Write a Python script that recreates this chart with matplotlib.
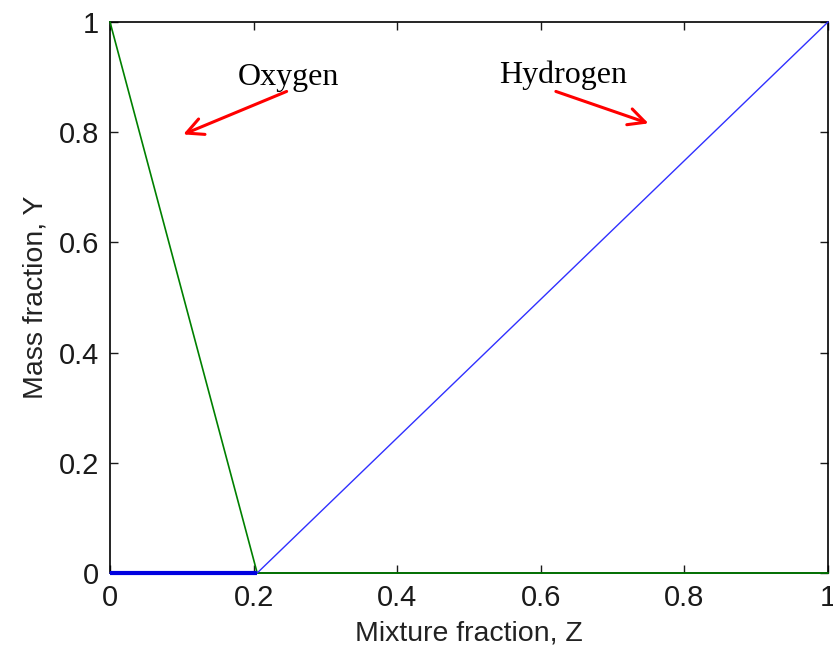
import matplotlib
matplotlib.use("Agg")
import matplotlib.pyplot as plt

# mixture fraction and species mass fractions
z = [0.0, 0.205, 1.0]
y_oxygen = [1.0, 0.0, 0.0]
y_hydrogen = [0.0, 0.0, 1.0]

xticks = [0, 0.2, 0.4, 0.6, 0.8, 1]
yticks = [0, 0.2, 0.4, 0.6, 0.8, 1]
tick_labels = ["0", "0.2", "0.4", "0.6", "0.8", "1"]


def main():
    fig = plt.figure(figsize=(8.33, 6.55), dpi=100)
    ax = fig.add_axes([110 / 833, 82 / 655, 718 / 833, 551 / 655])

    # lines are drawn over the spines, as in the MATLAB figure
    ax.plot(z, y_oxygen, color="#008000", lw=1.2, zorder=3, clip_on=False)
    ax.plot(z, y_hydrogen, color="#3030ff", lw=1.0, zorder=3, clip_on=False)
    ax.plot(z[:2], y_hydrogen[:2], color="#0000e0", lw=3, zorder=4,
            solid_capstyle="butt", clip_on=False)

    ax.set_xlim(0, 1)
    ax.set_ylim(0, 1)
    ax.set_xticks(xticks)
    ax.set_yticks(yticks)
    ax.set_xticklabels(tick_labels, family="Liberation Sans", fontsize=21)
    ax.set_yticklabels(tick_labels, family="Liberation Sans", fontsize=21)
    ax.tick_params(direction="in", length=6, width=1, top=True, right=True,
                   pad=8, colors="#1a1a1a")
    for s in ax.spines.values():
        s.set_linewidth(1.2)

    ax.set_xlabel("Mixture fraction, Z", family="Liberation Sans", fontsize=20.5,
                  color="#222222", labelpad=6)
    ax.set_ylabel("Mass fraction, Y", family="Liberation Sans", fontsize=20.5,
                  color="#222222", labelpad=7)

    ax.text(0.248, 0.886, "Oxygen", family="Liberation Serif", fontsize=23,
            ha="center", va="baseline")
    ax.text(0.631, 0.890, "Hydrogen", family="Liberation Serif", fontsize=23,
            ha="center", va="baseline")
    ax.annotate("", xy=(0.102, 0.796), xytext=(0.246, 0.874),
                arrowprops=dict(arrowstyle="->", color="red", lw=2.2,
                                mutation_scale=30, shrinkA=0, shrinkB=0))
    ax.annotate("", xy=(0.750, 0.816), xytext=(0.621, 0.874),
                arrowprops=dict(arrowstyle="->", color="red", lw=2.2,
                                mutation_scale=30, shrinkA=0, shrinkB=0))

    fig.savefig("out.png", dpi=100)


if __name__ == "__main__":
    main()
